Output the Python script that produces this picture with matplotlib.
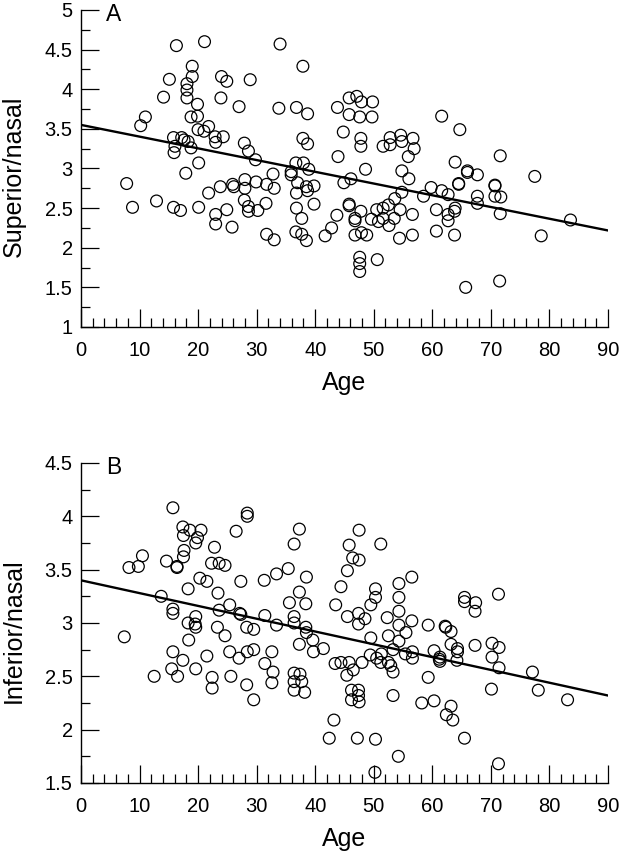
import numpy as np
import matplotlib
matplotlib.use('Agg')
import matplotlib.pyplot as plt
from matplotlib.ticker import MultipleLocator, FormatStrFormatter

# panel A: superior/nasal vs age
age_a = [7.8, 8.8, 10.2, 11.0, 12.9, 14.1, 15.1, 16.3, 15.8, 16.05, 15.9, 15.8, 17.0, 17.2, 17.6, 17.9,
         18.1, 18.1, 18.1, 19.0, 19.0, 18.8, 19.9, 19.9, 18.3, 18.8, 20.0, 20.1, 20.1, 21.1, 21.0, 21.8,
         21.8, 22.9, 23.0, 23.0, 23.0, 24.0, 24.9, 23.9, 24.3, 23.8, 24.9, 25.8, 25.9, 26.1, 27.0, 27.9,
         28.6, 28.0, 28.0, 27.9, 28.6, 28.6, 30.2, 28.9, 29.8, 29.9,
         31.7, 31.6, 31.7, 32.8, 33.0, 33.0, 34.0, 33.8, 35.9, 35.9, 36.7, 37.0, 36.8, 36.8, 36.7, 37.7,
         38.5, 37.7, 36.8, 38.7, 37.9, 37.9, 38.7, 38.0, 38.9, 38.5, 38.7, 39.8, 39.8, 41.7, 42.8, 43.7,
         43.9, 43.8, 44.8, 44.9, 46.1, 45.8, 47.1, 47.9, 49.8, 45.8, 47.6, 49.7, 47.8, 47.8, 48.6, 45.8,
         45.8, 46.8, 46.8, 47.8, 46.8, 47.9, 48.8, 47.6, 47.6, 47.6, 50.6, 49.6, 50.5, 50.8, 51.6, 51.6,
         52.6, 52.5, 53.5, 53.6, 54.5, 54.8, 54.4, 56.6, 56.6, 51.6, 52.8, 52.8, 54.6, 54.8, 56.7, 56.9,
         55.9, 54.8, 56.0, 58.5, 59.8, 60.7, 60.7,
         61.6, 64.7, 63.9, 66.0, 66.0, 67.7, 64.5, 64.5, 61.6, 62.7, 63.9, 63.8, 62.7, 62.7, 63.8, 67.7,
         67.7, 70.7, 70.7, 70.7, 71.7, 71.6, 71.6, 77.5, 78.6, 83.6, 65.7, 71.5]
sup_a = [2.81, 2.51, 3.54, 3.65, 2.59, 3.90, 4.125, 4.55, 3.39, 3.28, 3.20, 2.51, 2.47, 3.39, 3.36, 2.94,
         4.07, 3.99, 3.89, 4.29, 4.16, 3.65, 3.81, 3.66, 3.34, 3.26, 3.49, 3.07, 2.51, 4.60, 3.47, 3.53,
         2.69, 3.40, 3.33, 2.42, 2.30, 4.16, 4.10, 3.89, 3.40, 2.77, 2.48, 2.26, 2.80, 2.77, 3.78, 3.32,
         3.22, 2.86, 2.75, 2.60, 2.52, 2.46, 2.47, 4.12, 3.11, 2.83,
         2.17, 2.56, 2.80, 2.93, 2.75, 2.10, 4.57, 3.76, 2.96, 2.92, 3.07, 2.82, 2.69, 2.50, 2.20, 2.17,
         2.09, 2.37, 3.77, 3.69, 4.29, 3.38, 3.31, 3.07, 2.99, 2.77, 2.72, 2.78, 2.55, 2.15, 2.25, 2.41,
         3.15, 3.77, 3.46, 2.82, 2.87, 3.89, 3.91, 3.84, 3.84, 3.68, 3.65, 3.65, 3.38, 3.28, 2.99, 2.55,
         2.53, 2.37, 2.34, 2.46, 2.16, 2.19, 2.16, 1.88, 1.80, 1.70, 1.85, 2.36, 2.48, 2.33, 2.50, 2.37,
         2.28, 2.54, 2.37, 2.62, 2.48, 2.70, 2.12, 2.16, 2.42, 3.28, 3.30, 3.39, 3.42, 3.34, 3.38, 3.25,
         3.15, 2.97, 2.87, 2.65, 2.76, 2.48, 2.21,
         3.66, 3.49, 3.08, 2.97, 2.95, 2.92, 2.81, 2.80, 2.72, 2.67, 2.50, 2.46, 2.42, 2.34, 2.16, 2.65,
         2.56, 2.79, 2.78, 2.65, 2.64, 2.43, 3.16, 2.90, 2.15, 2.35, 1.50, 1.58]

# panel B: inferior/nasal vs age
age_b = [7.4, 8.2, 9.8, 10.5, 12.5, 13.7, 14.6, 15.7, 15.7, 15.7, 15.7, 15.5, 16.4, 16.4, 16.5, 17.4,
         17.5, 18.6, 17.6, 17.5, 18.3, 18.3, 18.4, 17.4, 19.6, 19.5, 19.6, 19.6, 19.6, 19.9, 20.5, 20.3,
         21.5, 21.5, 22.4, 22.4, 22.8, 22.3, 23.6, 24.6, 23.4, 23.6, 23.3, 24.6, 25.4, 25.4, 25.6, 26.5,
         27.3, 27.1, 27.3, 27.0, 28.4, 28.4, 28.3, 29.5, 28.4, 29.5, 28.3, 29.5,
         31.3, 31.4, 31.4, 32.6, 32.8, 32.6, 33.4, 33.4, 35.4, 35.6, 36.4, 36.4, 37.3, 38.4, 38.5, 36.4,
         37.3, 37.3, 38.4, 38.5, 39.6, 39.7, 41.4, 36.4, 37.4, 36.4, 37.7, 36.4, 38.2, 43.2, 42.4, 43.5,
         44.4, 43.4, 44.4, 45.8, 45.4, 46.5, 45.5, 45.5, 45.8, 46.4, 47.5, 47.5, 47.4, 47.4, 48.5, 46.2,
         47.4, 46.2, 47.4, 47.5, 47.2, 48.0, 49.4, 49.5, 49.5, 50.3, 50.3, 50.5, 51.3, 51.2, 51.2, 50.3,
         50.2, 52.3, 52.5, 52.5, 52.9, 53.3, 53.3, 53.3, 54.3, 54.3, 54.3, 54.3, 54.3, 54.2, 55.5, 55.4,
         56.5, 56.5, 56.6, 56.6, 58.2, 59.3, 59.3, 60.3, 60.3, 61.2,
         62.2, 62.3, 63.2, 63.2, 61.3, 61.3, 64.3, 64.3, 64.2, 65.5, 65.5, 67.4, 67.3, 67.3, 71.3, 70.2,
         71.4, 70.2, 71.4, 70.1, 63.2, 62.4, 63.5, 65.5, 71.3, 77.1, 78.1, 83.1]
inf_b = [2.87, 3.52, 3.53, 3.63, 2.50, 3.25, 3.58, 4.08, 3.13, 3.09, 2.73, 2.57, 3.53, 3.52, 2.50, 3.90,
         3.82, 3.87, 3.68, 3.62, 3.32, 3.00, 2.84, 2.65, 3.06, 2.99, 2.96, 2.57, 3.75, 3.80, 3.87, 3.42,
         3.39, 2.69, 2.49, 2.39, 3.71, 3.56, 3.56, 3.54, 3.28, 3.12, 2.96, 2.88, 3.17, 2.73, 2.50, 3.86,
         3.39, 3.09, 3.08, 2.67, 4.03, 4.00, 2.96, 2.94, 2.73, 2.75, 2.42, 2.28,
         3.40, 3.07, 2.62, 2.73, 2.54, 2.44, 3.46, 2.98, 3.51, 3.19, 3.06, 3.00, 3.29, 3.18, 3.43, 3.74,
         3.88, 2.80, 2.96, 2.91, 2.84, 2.73, 2.76, 2.53, 2.52, 2.45, 2.45, 2.37, 2.35, 2.09, 1.92, 3.17,
         3.34, 2.62, 2.63, 2.63, 2.51, 2.56, 3.06, 3.49, 3.73, 3.61, 3.59, 3.87, 3.09, 2.99, 3.04, 2.37,
         2.37, 2.28, 2.32, 2.26, 1.92, 2.63, 2.70, 2.86, 3.17, 3.24, 3.32, 2.67, 2.71, 2.63, 3.74, 1.91,
         1.60, 3.05, 2.88, 2.63, 2.60, 2.54, 2.75, 2.32, 3.37, 3.24, 3.11, 2.98, 2.83, 1.75, 2.91, 2.71,
         3.43, 3.02, 2.73, 2.67, 2.25, 2.98, 2.49, 2.74, 2.27, 2.66,
         2.97, 2.96, 2.92, 2.80, 2.68, 2.64, 2.76, 2.73, 2.65, 3.24, 3.20, 3.19, 3.11, 2.79, 3.27, 2.81,
         2.77, 2.68, 2.58, 2.38, 2.22, 2.14, 2.09, 1.92, 1.68, 2.54, 2.37, 2.28]

# regression lines (intercept, slope)
fit_a = (3.55, -0.0148)
fit_b = (3.40, -0.0120)

panels = [
    ('A', 'Superior/nasal', age_a, sup_a, fit_a, (1, 5)),
    ('B', 'Inferior/nasal', age_b, inf_b, fit_b, (1.5, 4.5)),
]
boxes = [[0.1306, 0.6162, 0.85, 0.3721], [0.1306, 0.0810, 0.85, 0.3756]]

fig = plt.figure(figsize=(6.2, 8.52), dpi=100)

for (letter, ylab, xs, ys, fit, ylim), box in zip(panels, boxes):
    ax = fig.add_axes(box)
    ax.scatter(xs, ys, s=72, facecolors='none', edgecolors='black', linewidths=0.9, zorder=3)
    xl = np.array([0, 90])
    ax.plot(xl, fit[0] + fit[1] * xl, color='black', lw=1.7, zorder=2)

    ax.set_xlim(0, 90)
    ax.set_ylim(*ylim)
    ax.xaxis.set_major_locator(MultipleLocator(10))
    ax.xaxis.set_minor_locator(MultipleLocator(2))
    ax.yaxis.set_major_locator(MultipleLocator(0.5))
    ax.yaxis.set_minor_locator(MultipleLocator(0.25))
    ax.yaxis.set_major_formatter(FormatStrFormatter('%g'))

    for s in ['top', 'right']:
        ax.spines[s].set_visible(False)
    for s in ['left', 'bottom']:
        ax.spines[s].set_linewidth(1.0)

    ax.tick_params(which='major', direction='in', length=13, width=0.9, labelsize=14.5,
                   labelfontfamily='Liberation Sans')
    ax.tick_params(which='minor', direction='in', length=6.5, width=0.9)
    ax.tick_params(axis='x', pad=10)
    ax.tick_params(axis='y', pad=6)

    ax.set_xlabel('Age', fontsize=18, family='Liberation Sans', labelpad=8)
    ax.set_ylabel(ylab, fontsize=18, family='Liberation Sans', va='center')
    ax.yaxis.set_label_coords(-0.127, 0.475)
    # panel letter, baseline just under the top of the axis
    ax.text(0.048, 0.966, letter, transform=ax.transAxes, ha='left', va='baseline',
            fontsize=16.5, family='Liberation Sans')

fig.savefig('out.png', dpi=100)
